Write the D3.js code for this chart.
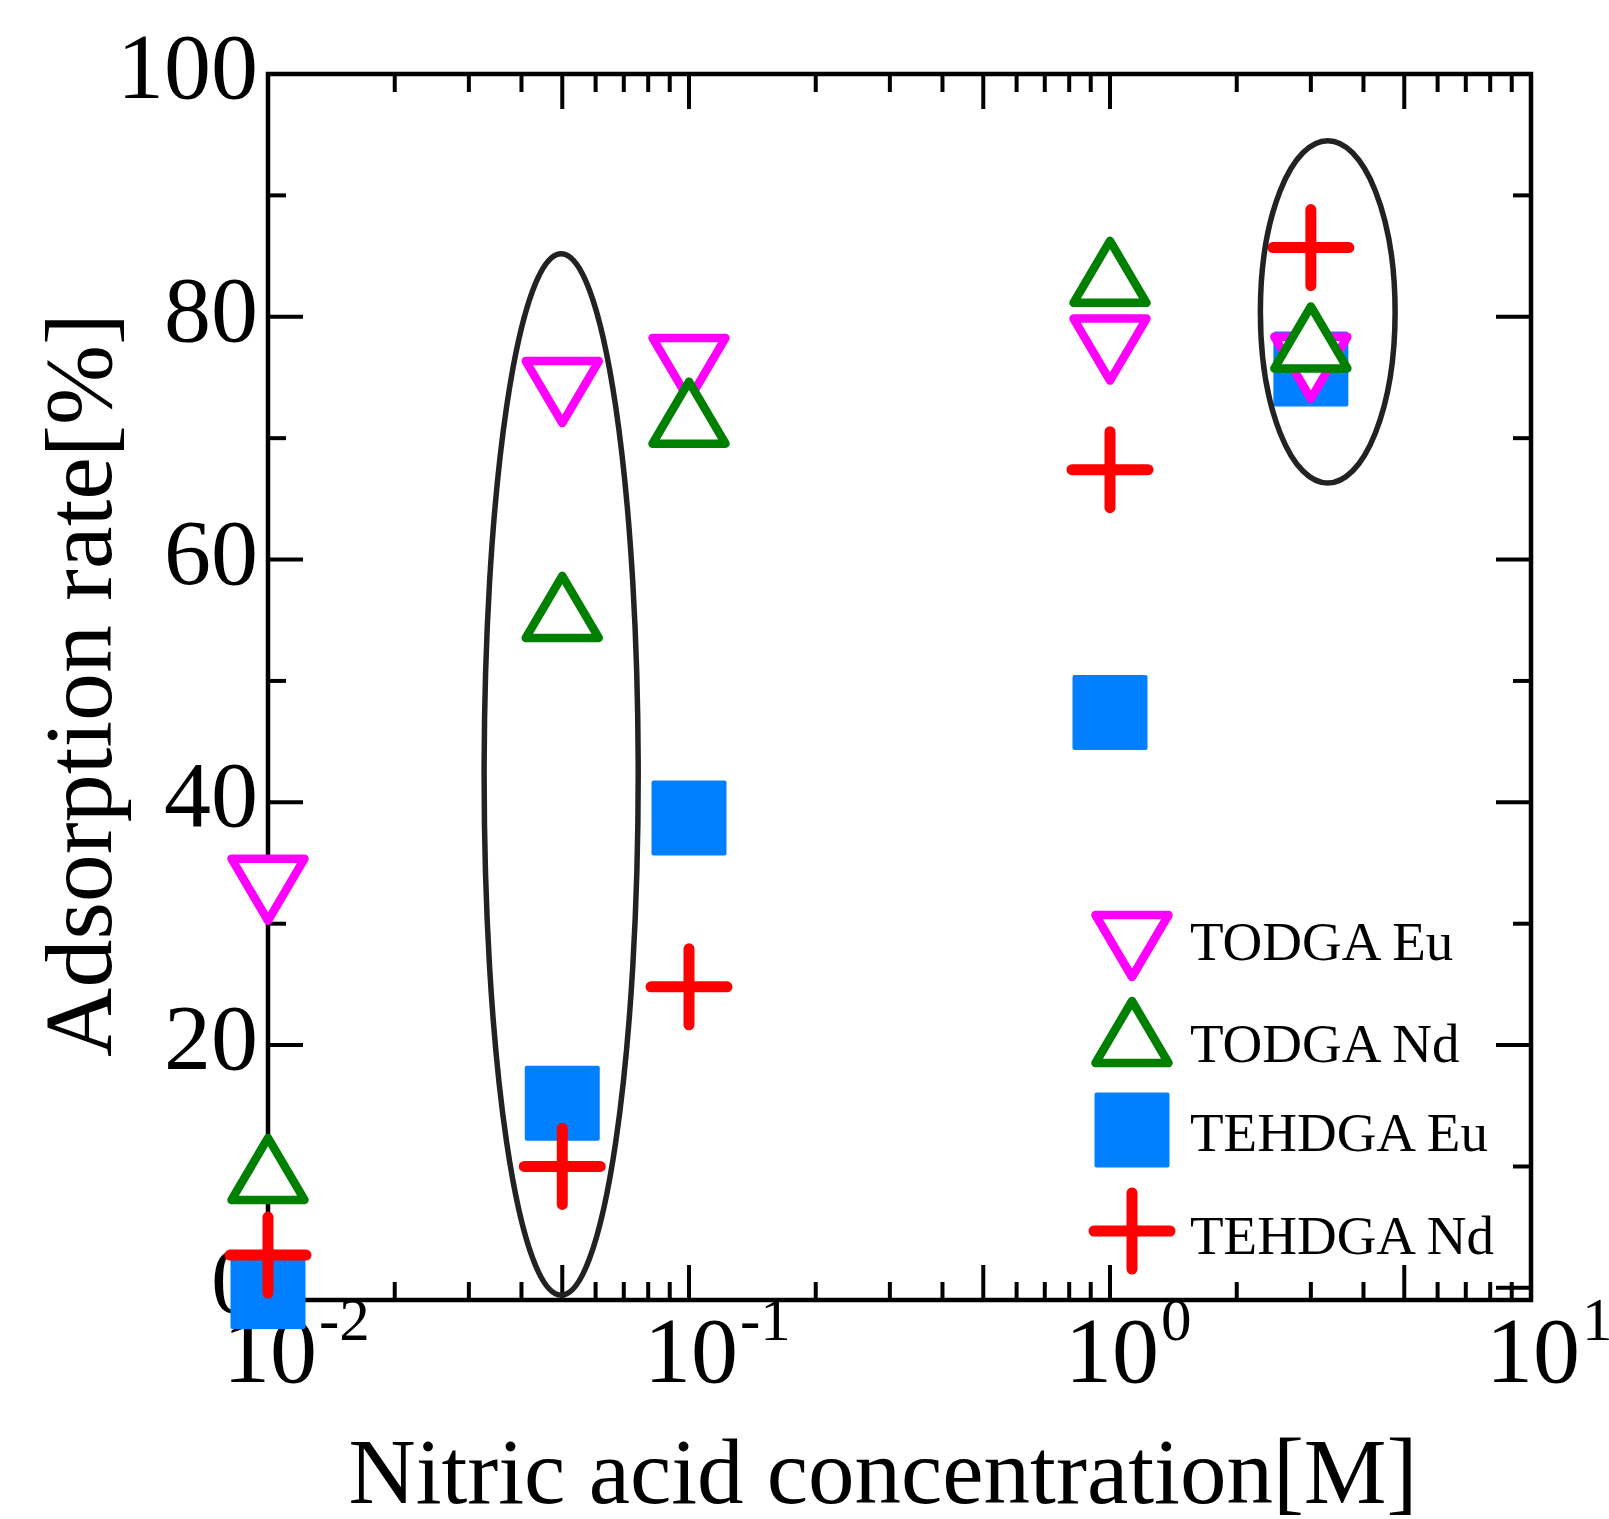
<!DOCTYPE html>
<html>
<head>
<meta charset="utf-8">
<script src="https://cdn.jsdelivr.net/npm/d3@7"></script>
<style>
  html, body { margin: 0; padding: 0; background: #fff; }
  svg { display: block; }
  text { font-family: "Liberation Serif", "Times New Roman", serif; fill: #000; }
</style>
</head>
<body>
<svg id="chart" width="1609" height="1519"></svg>
<script>
// ---- data ----
const concentrations = [0.01, 0.05, 0.1, 1, 3];           // Nitric acid [M]
const todgaEu  = [32.8, 73.8, 75.7, 77.3, 75.8];
const todgaNd  = [9.8, 56.1, 72.1, 83.7, 78.3];
const tehdgaEu = [-0.3, 15.2, 38.7, 47.4, 75.7];
const tehdgaNd = [2.7, 10.0, 24.8, 67.4, 85.7];

const seriesNames = ["TODGA Eu", "TODGA Nd", "TEHDGA Eu", "TEHDGA Nd"];
const yMajorTicks = [0, 20, 40, 60, 80, 100];
const yMinorTicks = [10, 30, 50, 70, 90];
const xDecadeExponents = [-2, -1, 0, 1];
const xTickMultipliers = [1, 2, 3, 4, 5, 6, 7, 8, 9];
const xLongMultipliers = [1, 5];

// highlighted groups (center concentration, center %, half-width in decades, half-height in %)
const ellipseCx = [0.0497, 3.29];
const ellipseCy = [42.3, 80.4];
const ellipseDx = [0.183, 0.160];
const ellipseDy = [42.9, 14.1];

// ---- layout ----
const svg = d3.select("#chart");
const L = 268, R = 1531, T = 74, B = 1300;
const x = d3.scaleLog().domain([0.01, 10]).range([L, R]);
const y = d3.scaleLinear().domain([-1, 100]).range([B, T]);

const colors = {
  "TODGA Eu": "#ff00ff",
  "TODGA Nd": "#008000",
  "TEHDGA Eu": "#0080ff",
  "TEHDGA Nd": "#ff0000"
};

// legend row layout (pixels)
const legendSymbolY = [946, 1032, 1130, 1231];
const legendTextY = [960, 1062, 1151, 1254];

// ---- tick labels (drawn beneath markers) ----
const labels = svg.append("g");
labels.selectAll("text.ylab").data(yMajorTicks).join("text")
  .attr("class", "ylab")
  .attr("x", 258)
  .attr("y", d => y(d) + 24)
  .attr("text-anchor", "end")
  .attr("font-size", 94)
  .text(d => d);

xDecadeExponents.forEach(e => {
  const px = x(Math.pow(10, e));
  const base = labels.append("text")
    .attr("x", px + 2).attr("y", 1382)
    .attr("text-anchor", "middle")
    .attr("font-size", 94)
    .text("10");
  const w = base.node().getComputedTextLength();
  labels.append("text")
    .attr("x", px + 2 + w / 2 + 2).attr("y", 1340)
    .attr("text-anchor", "start")
    .attr("font-size", 61)
    .text(e < 0 ? "-" + Math.abs(e) : String(e));
});

// axis titles
svg.append("text")
  .attr("x", 883).attr("y", 1503)
  .attr("text-anchor", "middle")
  .attr("font-size", 93)
  .text("Nitric acid concentration[M]");
svg.append("text")
  .attr("transform", "translate(111,685) rotate(-90)")
  .attr("text-anchor", "middle")
  .attr("font-size", 96)
  .text("Adsorption rate[%]");

// ---- frame & ticks ----
const axes = svg.append("g").attr("stroke", "#000").attr("stroke-width", 4).attr("fill", "none");
const majLen = 35, minLen = 18;

const xTicks = [];
xDecadeExponents.forEach(e => {
  xTickMultipliers.forEach(m => {
    const v = m * Math.pow(10, e);
    if (v <= 10 + 1e-9) xTicks.push({ v, long: xLongMultipliers.includes(m) });
  });
});
xTicks.forEach(t => {
  const px = x(t.v);
  const len = t.long ? majLen : minLen;
  axes.append("line").attr("x1", px).attr("x2", px).attr("y1", B).attr("y2", B - len);
  axes.append("line").attr("x1", px).attr("x2", px).attr("y1", T).attr("y2", T + len);
});
yMajorTicks.concat(yMinorTicks).forEach(v => {
  const py = y(v);
  const len = yMajorTicks.includes(v) ? majLen : minLen;
  axes.append("line").attr("x1", L).attr("x2", L + len).attr("y1", py).attr("y2", py);
  axes.append("line").attr("x1", R).attr("x2", R - len).attr("y1", py).attr("y2", py);
});
axes.append("rect").attr("x", L).attr("y", T).attr("width", R - L).attr("height", B - T)
  .attr("stroke-width", 4.5);

// ---- markers ----
function triPath(down, hw, hh) {
  return down
    ? `M${-hw},${-hh}L${hw},${-hh}L0,${hh}Z`
    : `M0,${-hh}L${hw},${hh}L${-hw},${hh}Z`;
}
function drawSymbol(g, name, cx, cy) {
  const c = colors[name];
  if (name === "TODGA Eu" || name === "TODGA Nd") {
    g.append("path")
      .attr("d", triPath(name === "TODGA Eu", 36.5, 31))
      .attr("transform", `translate(${cx},${cy})`)
      .attr("fill", "#fff").attr("stroke", c).attr("stroke-width", 8.5)
      .attr("stroke-linejoin", "round");
  } else if (name === "TEHDGA Eu") {
    g.append("rect")
      .attr("x", cx - 37.5).attr("y", cy - 37.5)
      .attr("width", 75).attr("height", 75).attr("rx", 2)
      .attr("fill", c);
  } else {
    const a = 38;
    g.append("path")
      .attr("d", `M${cx - a},${cy}L${cx + a},${cy}M${cx},${cy - a}L${cx},${cy + a}`)
      .attr("stroke", c).attr("stroke-width", 11).attr("stroke-linecap", "round")
      .attr("fill", "none");
  }
}

const seriesValues = {
  "TODGA Eu": todgaEu, "TODGA Nd": todgaNd,
  "TEHDGA Eu": tehdgaEu, "TEHDGA Nd": tehdgaNd
};
const drawOrder = ["TEHDGA Eu", "TODGA Eu", "TODGA Nd", "TEHDGA Nd"];
const marks = svg.append("g");
drawOrder.forEach(name => {
  seriesValues[name].forEach((v, i) => {
    drawSymbol(marks, name, x(concentrations[i]), y(v));
  });
});

// ---- ellipses ----
const ell = svg.append("g");
ellipseCx.forEach((cxv, i) => {
  const cx = x(cxv);
  const rx = x(cxv * Math.pow(10, ellipseDx[i])) - cx;
  const cy = y(ellipseCy[i]);
  const ry = y(ellipseCy[i] - ellipseDy[i]) - cy;
  ell.append("ellipse")
    .attr("cx", cx).attr("cy", cy).attr("rx", rx).attr("ry", ry)
    .attr("fill", "none").attr("stroke", "#222").attr("stroke-width", 5.5);
});

// ---- legend ----
const leg = svg.append("g");
seriesNames.forEach((name, i) => {
  drawSymbol(leg, name, 1132, legendSymbolY[i]);
  leg.append("text")
    .attr("x", 1190).attr("y", legendTextY[i])
    .attr("font-size", 55)
    .text(name);
});
</script>
</body>
</html>
